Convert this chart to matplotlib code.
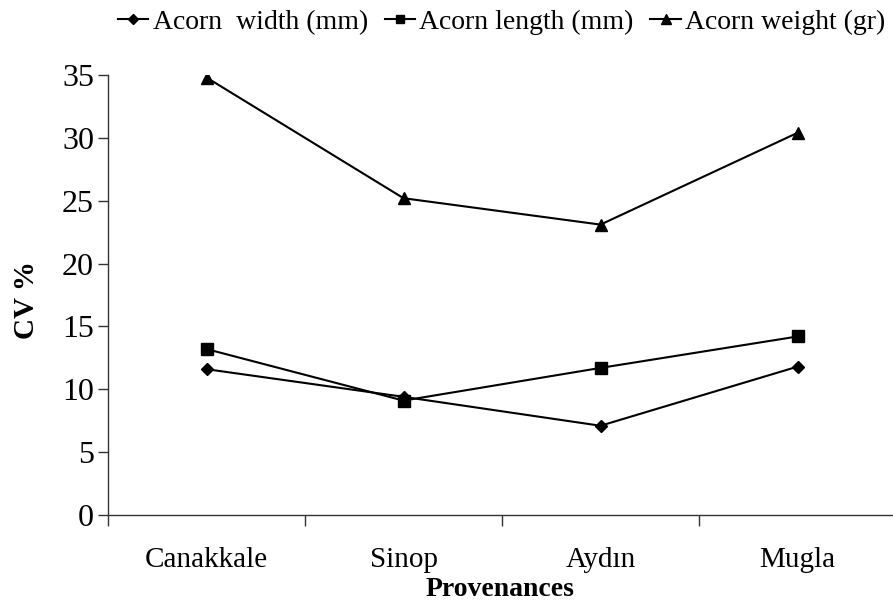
import matplotlib
matplotlib.use("Agg")
import matplotlib.pyplot as plt
import numpy as np

categories = ["Canakkale", "Sinop", "Aydın", "Mugla"]
width_cv = [11.6, 9.4, 7.1, 11.8]
length_cv = [13.2, 9.1, 11.7, 14.2]
weight_cv = [34.8, 25.2, 23.1, 30.4]
series_names = ["Acorn  width (mm)", "Acorn length (mm)", "Acorn weight (gr)"]
y_ticks = [0, 5, 10, 15, 20, 25, 30, 35]

plt.rcParams['font.family'] = ['Liberation Serif', 'DejaVu Serif']

W, H = 893, 603
fig = plt.figure(figsize=(W / 100, H / 100), dpi=100)
left, right, bottom, top = 108, 896, 515, 75
ax = fig.add_axes([left / W, 1 - bottom / H, (right - left) / W, (bottom - top) / H])

x = np.arange(len(categories))
h1, = ax.plot(x, width_cv, color='black', lw=1.5, marker='D', ms=6.5, label=series_names[0])
h2, = ax.plot(x, length_cv, color='black', lw=1.5, marker='s', ms=8, label=series_names[1])
h3, = ax.plot(x, weight_cv, color='black', lw=1.5, marker='^', ms=9, label=series_names[2])

ax.set_xlim(-0.5, len(categories) - 0.5)
ax.set_ylim(0, 35)
ax.set_yticks(y_ticks)
ax.set_xticks(x)
ax.set_xticklabels(categories)
ax.set_xticks(np.arange(-0.5, len(categories), 1.0), minor=True)
ax.tick_params(axis='x', which='major', length=0, pad=23, labelsize=21)
ax.tick_params(axis='x', which='minor', length=8, width=1, color='#333333', direction='out')
ax.tick_params(axis='y', length=7, width=1, color='#333333', direction='out', pad=3, labelsize=23)

for s in ['top', 'right']:
    ax.spines[s].set_visible(False)
for s in ['left', 'bottom']:
    ax.spines[s].set_color('#333333')
    ax.spines[s].set_linewidth(1)

ax.set_ylabel("CV %", fontsize=21, fontweight='bold')
ax.yaxis.set_label_coords(26 / W, 1 - 300 / H, transform=fig.transFigure)
ax.yaxis.label.set_verticalalignment('center')
ax.set_xlabel("Provenances", fontsize=20, fontweight='bold')
ax.xaxis.set_label_coords(0.5 * (left + 893) / W, 1 - 590 / H, transform=fig.transFigure)
ax.xaxis.label.set_verticalalignment('center')

fig.legend(handles=[h1, h2, h3], loc='upper right', bbox_to_anchor=(1.01, 1.012),
           ncol=3, frameon=False, fontsize=20, handlelength=1.1, handletextpad=0.15,
           columnspacing=0.6, markerscale=0.75, borderaxespad=0.2)

fig.savefig("out.png", dpi=100)
